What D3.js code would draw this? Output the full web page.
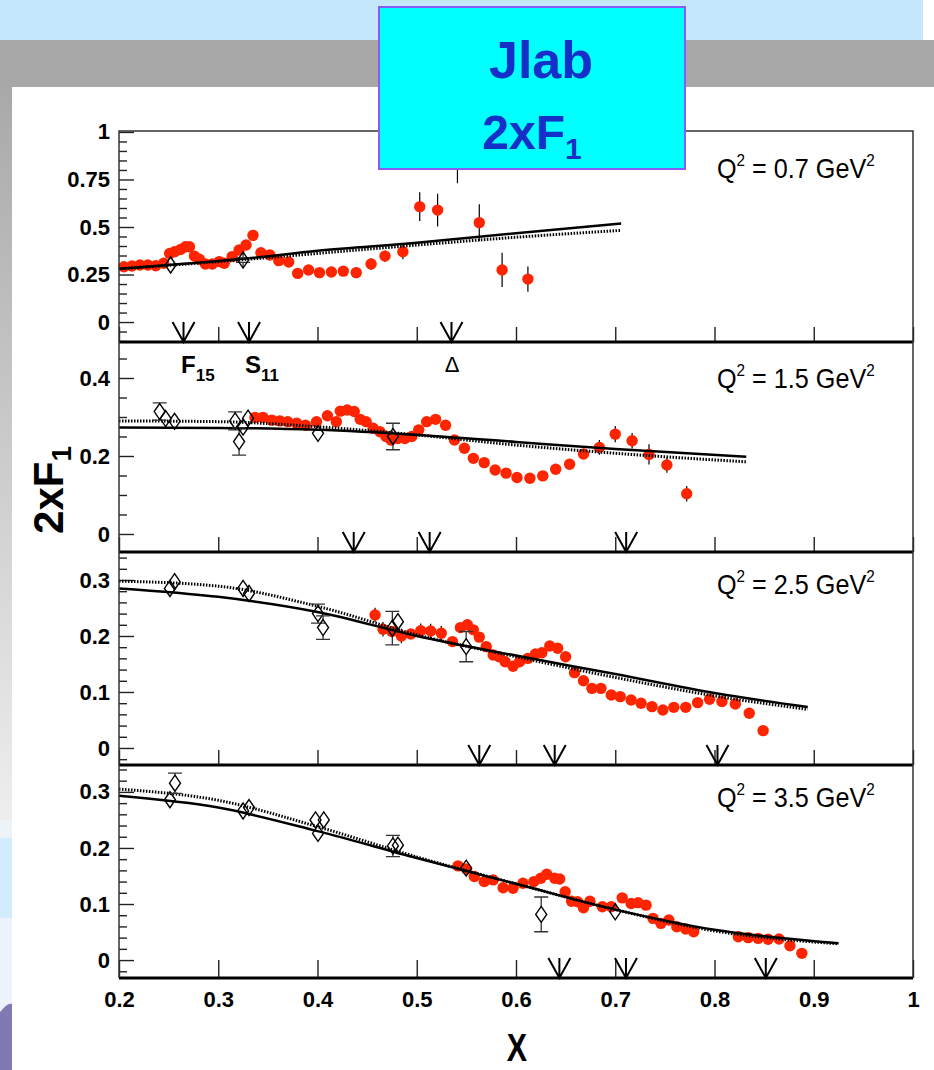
<!DOCTYPE html>
<html>
<head>
<meta charset="utf-8">
<script src="https://cdn.jsdelivr.net/npm/d3@7"></script>
<style>
body { margin: 0; background: #fff; }
svg { display: block; }
text { font-family: "Liberation Sans", Arial, sans-serif; }
</style>
</head>
<body>
<div id="chart"></div>
<script>
// ---- data: [x, 2xF1, error] ----
var q2Labels = ["0.7", "1.5", "2.5", "3.5"];

var red07 = [[0.205,0.291,0],[0.213,0.295,0],[0.221,0.300,0],[0.229,0.300,0],[0.237,0.296,0],[0.245,0.309,0],
  [0.251,0.361,0],[0.256,0.370,0],[0.262,0.382,0],[0.267,0.396,0],[0.271,0.396,0],[0.276,0.347,0],[0.281,0.330,0],
  [0.287,0.305,0],[0.294,0.305,0],[0.301,0.318,0],[0.306,0.309,0],[0.314,0.344,0],[0.321,0.379,0],[0.328,0.405,0],
  [0.335,0.456,0],[0.343,0.365,0],[0.352,0.353,0],[0.361,0.323,0],[0.371,0.316,0],[0.380,0.256,0],[0.391,0.274,0],
  [0.402,0.260,0],[0.414,0.263,0],[0.426,0.268,0],[0.439,0.260,0.03],[0.454,0.305,0.03],[0.468,0.347,0.03],
  [0.486,0.370,0.04],[0.503,0.607,0.076],[0.521,0.589,0.086],[0.541,0.95,0.22],[0.563,0.523,0.097],
  [0.586,0.274,0.09],[0.612,0.226,0.066]];
var dia07 = [[0.252,0.300,0],[0.325,0.326,0.012]];
var solid07 = [[0.2,0.28],[0.33,0.335],[0.4,0.375],[0.5,0.417],[0.6,0.467],[0.706,0.519]];
var dot07 = [[0.2,0.28],[0.33,0.33],[0.4,0.361],[0.5,0.405],[0.6,0.446],[0.705,0.482]];
var arrows07 = [0.265, 0.331, 0.535];

var red15 = [[0.337,0.299,0],[0.345,0.299,0],[0.354,0.292,0],[0.362,0.290,0],[0.370,0.288,0],[0.379,0.284,0],
  [0.388,0.279,0],[0.399,0.288,0],[0.410,0.303,0],[0.419,0.288,0],[0.423,0.315,0],[0.430,0.318,0],[0.437,0.314,0],
  [0.443,0.294,0],[0.449,0.288,0],[0.456,0.271,0],[0.463,0.262,0],[0.469,0.250,0],[0.474,0.241,0],[0.481,0.245,0],
  [0.488,0.245,0],[0.495,0.250,0],[0.502,0.267,0],[0.510,0.288,0],[0.519,0.294,0],[0.529,0.279,0],[0.538,0.241,0],
  [0.548,0.220,0],[0.557,0.194,0],[0.568,0.183,0],[0.579,0.164,0],[0.590,0.156,0],[0.601,0.145,0],[0.614,0.143,0],
  [0.627,0.149,0],[0.640,0.166,0],[0.654,0.179,0],[0.668,0.205,0],[0.684,0.222,0.019],[0.700,0.256,0.021],
  [0.717,0.239,0.02],[0.734,0.204,0.026],[0.752,0.177,0.02],[0.772,0.103,0.02]];
var dia15 = [[0.241,0.314,0.022],[0.247,0.296,0],[0.256,0.289,0],[0.317,0.290,0.023],[0.321,0.237,0.035],
  [0.325,0.274,0],[0.330,0.297,0],[0.4005,0.258,0],[0.476,0.250,0.034]];
var solid15 = [[0.2,0.273],[0.3,0.272],[0.4,0.267],[0.5,0.254],[0.6,0.236],[0.7,0.218],[0.832,0.198]];
var dot15 = [[0.2,0.290],[0.3,0.288],[0.4,0.275],[0.5,0.254],[0.6,0.228],[0.7,0.207],[0.832,0.185]];
var arrows15 = [0.4365, 0.513, 0.711];

var red25 = [[0.458,0.2375,0.013],[0.466,0.212,0.013],[0.475,0.208,0],[0.4845,0.200,0.013],[0.494,0.2036,0],
  [0.504,0.2095,0.013],[0.514,0.209,0.013],[0.5247,0.205,0.013],[0.536,0.190,0],[0.544,0.215,0],[0.551,0.220,0],
  [0.557,0.211,0],[0.563,0.198,0],[0.570,0.181,0],[0.577,0.166,0],[0.583,0.163,0],[0.589,0.154,0],[0.597,0.146,0],
  [0.6036,0.154,0],[0.612,0.160,0],[0.6196,0.168,0],[0.626,0.170,0],[0.634,0.182,0],[0.642,0.178,0],[0.650,0.163,0],
  [0.659,0.1345,0],[0.668,0.120,0],[0.6765,0.1065,0],[0.6856,0.1065,0],[0.696,0.0946,0],[0.705,0.0917,0],
  [0.716,0.0857,0],[0.726,0.0798,0],[0.737,0.0738,0],[0.748,0.0679,0],[0.759,0.0726,0],[0.771,0.0726,0],
  [0.783,0.081,0],[0.795,0.087,0],[0.8075,0.083,0],[0.821,0.0786,0],[0.835,0.062,0],[0.849,0.031,0]];
var dia25 = [[0.2513,0.285,0],[0.256,0.297,0],[0.325,0.285,0],[0.331,0.276,0],[0.4005,0.240,0.017],
  [0.4056,0.215,0.021],[0.4754,0.214,0.03],[0.481,0.2256,0],[0.5498,0.181,0.027]];
var solid25 = [[0.2,0.285],[0.3,0.270],[0.4,0.243],[0.5,0.200],[0.6,0.165],[0.7,0.132],[0.8,0.098],[0.894,0.073]];
var dot25 = [[0.2,0.298],[0.3,0.289],[0.4,0.253],[0.5,0.202],[0.6,0.163],[0.7,0.126],[0.8,0.093],[0.894,0.069]];
var arrows25 = [0.563, 0.639, 0.803];

var red35 = [[0.5416,0.168,0.008],[0.550,0.1625,0.008],[0.558,0.149,0.008],[0.568,0.140,0.008],[0.577,0.143,0],
  [0.587,0.129,0],[0.597,0.128,0],[0.607,0.137,0],[0.618,0.140,0],[0.625,0.146,0],[0.631,0.153,0],[0.639,0.146,0],
  [0.644,0.1446,0],[0.6495,0.122,0],[0.656,0.105,0],[0.662,0.104,0],[0.668,0.0934,0],[0.6745,0.105,0],
  [0.687,0.095,0],[0.696,0.095,0],[0.707,0.111,0],[0.716,0.101,0],[0.723,0.1024,0],[0.731,0.098,0],
  [0.738,0.0744,0],[0.746,0.0655,0],[0.754,0.0714,0],[0.762,0.0595,0],[0.771,0.0554,0],[0.779,0.0506,0],
  [0.824,0.0417,0],[0.834,0.040,0],[0.844,0.0387,0],[0.854,0.037,0],[0.865,0.0375,0],[0.876,0.0256,0],[0.888,0.012,0]];
var dia35 = [[0.2513,0.286,0],[0.2564,0.3155,0.018],[0.325,0.266,0],[0.331,0.272,0],[0.398,0.250,0],
  [0.4063,0.250,0],[0.4005,0.226,0],[0.476,0.2036,0.019],[0.481,0.205,0],[0.5498,0.164,0],
  [0.6254,0.0815,0.031],[0.700,0.086,0]];
var solid35 = [[0.2,0.293],[0.3,0.272],[0.4,0.230],[0.5,0.182],[0.6,0.136],[0.7,0.090],[0.8,0.054],[0.925,0.030]];
var dot35 = [[0.2,0.305],[0.3,0.285],[0.4,0.238],[0.5,0.184],[0.6,0.136],[0.7,0.090],[0.8,0.052],[0.925,0.029]];
var arrows35 = [0.6437, 0.7108, 0.8517];

var xTicks = [0.2, 0.3, 0.4, 0.5, 0.6, 0.7, 0.8, 0.9, 1];
var yMajor07 = [0, 0.25, 0.5, 0.75, 1];
var yMajor15 = [0, 0.2, 0.4];
var yMajor25 = [0, 0.1, 0.2, 0.3];

// ---- layout ----
var svgWidth = 934, svgHeight = 1070;
var left = 119, right = 913;

var panels = [
  {q: q2Labels[0], red: red07, dia: dia07, solid: solid07, dotted: dot07, arrows: arrows07,
   top: 131, bottom: 342, dom: [-0.105, 1.005], major: yMajor07, minor: d3.range(-2, 21).map(i => i * 0.05), labelY: 178},
  {q: q2Labels[1], red: red15, dia: dia15, solid: solid15, dotted: dot15, arrows: arrows15,
   top: 342, bottom: 552, dom: [-0.0462, 0.4923], major: yMajor15, minor: d3.range(-1, 10).map(i => i * 0.05), labelY: 388},
  {q: q2Labels[2], red: red25, dia: dia25, solid: solid25, dotted: dot25, arrows: arrows25,
   top: 552, bottom: 765, dom: [-0.0304, 0.35], major: yMajor25, minor: d3.range(-1, 18).map(i => i * 0.02), labelY: 594},
  {q: q2Labels[3], red: red35, dia: dia35, solid: solid35, dotted: dot35, arrows: arrows35,
   top: 765, bottom: 978, dom: [-0.032, 0.348], major: yMajor25, minor: d3.range(-1, 18).map(i => i * 0.02), labelY: 807}
];

var svg = d3.select("#chart")
  .append("svg")
  .attr("width", svgWidth)
  .attr("height", svgHeight);

// slide background pieces
var defs = svg.append("defs");
var grad = defs.append("linearGradient").attr("id", "leftGrad")
  .attr("x1", 0).attr("y1", 0).attr("x2", 0).attr("y2", 1);
grad.append("stop").attr("offset", "0%").attr("stop-color", "#a9a9a9");
grad.append("stop").attr("offset", "100%").attr("stop-color", "#eeeeee");

svg.append("rect").attr("width", svgWidth).attr("height", svgHeight).attr("fill", "#fff");
svg.append("rect").attr("x", 0).attr("y", 0).attr("width", 923).attr("height", 40).attr("fill", "#c5e7fc");
svg.append("rect").attr("x", 0).attr("y", 40).attr("width", svgWidth).attr("height", 47).attr("fill", "#a8a8a8");
svg.append("rect").attr("x", 0).attr("y", 87).attr("width", 12).attr("height", 733).attr("fill", "url(#leftGrad)");
svg.append("rect").attr("x", 0).attr("y", 820).attr("width", 12).attr("height", 18).attr("fill", "#eef3f8");
svg.append("rect").attr("x", 0).attr("y", 838).attr("width", 12).attr("height", 80).attr("fill", "#d3ecfb");
svg.append("rect").attr("x", 0).attr("y", 918).attr("width", 12).attr("height", 152).attr("fill", "#eef2fa");
svg.append("path").attr("d", "M0,1012 Q8,1002 12,1004 L12,1070 L0,1070 Z").attr("fill", "#8079b4");

var x = d3.scaleLinear().domain([0.2, 1]).range([left, right]);

var line = d3.line()
  .x(d => x(d[0]))
  .curve(d3.curveMonotoneX);

function fmtY(d) {
  return d === 0 ? "0" : String(+d.toFixed(2));
}

panels.forEach(function(p, i) {
  var y = d3.scaleLinear().domain(p.dom).range([p.bottom, p.top]);
  var g = svg.append("g");

  // y axis: minor then major ticks
  var minorVals = p.minor.filter(v => !p.major.some(m => Math.abs(m - v) < 1e-6) && v >= p.dom[0] && v <= p.dom[1]);
  g.append("g")
    .attr("transform", `translate(${left},0)`)
    .call(d3.axisLeft(y).tickValues(minorVals).tickSize(-8).tickFormat(""))
    .call(a => a.select(".domain").remove());
  g.append("g")
    .attr("class", "yaxis")
    .attr("transform", `translate(${left},0)`)
    .call(d3.axisLeft(y).tickValues(p.major).tickSize(-15).tickPadding(9).tickFormat(fmtY))
    .call(a => a.select(".domain").remove());

  // x ticks along the bottom of each panel
  var xa = d3.axisBottom(x).tickValues(xTicks).tickSize(i === 3 ? -18 : -15).tickPadding(13)
    .tickFormat(i === 3 ? (d => d === 1 ? "1" : d.toFixed(1)) : "");
  g.append("g")
    .attr("class", "xaxis")
    .attr("transform", `translate(0,${p.bottom})`)
    .call(xa)
    .call(a => a.select(".domain").remove());

  g.selectAll(".tick line").attr("stroke", "#222").attr("stroke-width", 1.4);
  g.selectAll(".tick text")
    .attr("font-size", 22)
    .attr("font-weight", "bold")
    .attr("fill", "#000")
    .attr("font-family", "'Liberation Sans', Arial, sans-serif");

  // red points with error bars
  g.selectAll(".rerr")
    .data(p.red.filter(d => d[2] > 0))
    .enter()
    .append("line")
    .attr("x1", d => x(d[0])).attr("x2", d => x(d[0]))
    .attr("y1", d => y(d[1] - d[2])).attr("y2", d => y(d[1] + d[2]))
    .attr("stroke", "#000").attr("stroke-width", 1.2);
  g.selectAll(".rpt")
    .data(p.red)
    .enter()
    .append("circle")
    .attr("cx", d => x(d[0]))
    .attr("cy", d => y(d[1]))
    .attr("r", 5.7)
    .attr("fill", "#ff2400");

  // model curves
  g.append("path")
    .attr("d", line.y(d => y(d[1]))(p.dotted))
    .attr("fill", "none").attr("stroke", "#000").attr("stroke-width", 3)
    .attr("stroke-dasharray", "1.5,1.5");
  g.append("path")
    .attr("d", line.y(d => y(d[1]))(p.solid))
    .attr("fill", "none").attr("stroke", "#000").attr("stroke-width", 2.5);

  // open diamonds with capped error bars
  p.dia.forEach(function(d) {
    var cx = x(d[0]), cy = y(d[1]);
    if (d[2] > 0) {
      var up = y(d[1] + d[2]), dn = y(d[1] - d[2]);
      g.append("path")
        .attr("d", `M${cx},${cy - 8}L${cx},${up}M${cx - 7},${up}L${cx + 7},${up}` +
                   `M${cx},${cy + 8}L${cx},${dn}M${cx - 7},${dn}L${cx + 7},${dn}`)
        .attr("fill", "none").attr("stroke", "#333").attr("stroke-width", 1.3);
    }
    g.append("path")
      .attr("d", `M${cx},${cy - 8}L${cx + 5.5},${cy}L${cx},${cy + 8}L${cx - 5.5},${cy}Z`)
      .attr("fill", "none").attr("stroke", "#000").attr("stroke-width", 1.4);
  });

  // resonance arrows
  g.selectAll(".arrow")
    .data(p.arrows)
    .enter()
    .append("path")
    .attr("d", d => {
      var ax = x(d), b = p.bottom;
      return `M${ax - 11},${b - 20}L${ax},${b}L${ax + 11},${b - 20}M${ax},${b - 20}L${ax},${b}`;
    })
    .attr("fill", "none").attr("stroke", "#000").attr("stroke-width", 2);

  // Q^2 label
  var t = g.append("text")
    .attr("transform", `translate(717,${p.labelY}) scale(0.9,1)`)
    .attr("font-size", 28).attr("fill", "#000");
  t.append("tspan").text("Q");
  t.append("tspan").attr("font-size", 17).attr("dy", -12).text("2");
  t.append("tspan").attr("dy", 12).text(" = " + p.q + " GeV");
  t.append("tspan").attr("font-size", 17).attr("dy", -12).text("2");

  // panel bottom line
  g.append("line")
    .attr("x1", left).attr("x2", right)
    .attr("y1", p.bottom).attr("y2", p.bottom)
    .attr("stroke", "#000").attr("stroke-width", 3);
});

// frame
svg.append("path")
  .attr("d", `M${left},978L${left},131L${right},131L${right},978`)
  .attr("fill", "none").attr("stroke", "#333").attr("stroke-width", 1.5);

// resonance names under first panel
var f15 = svg.append("text").attr("x", 181).attr("y", 373).attr("font-size", 24).attr("font-weight", "bold").text("F");
f15.append("tspan").attr("font-size", 17).attr("dy", 8).text("15");
var s11 = svg.append("text").attr("x", 245).attr("y", 373).attr("font-size", 24).attr("font-weight", "bold").text("S");
s11.append("tspan").attr("font-size", 17).attr("dy", 8).text("11");
svg.append("text").attr("x", 452).attr("y", 372).attr("font-size", 22).attr("text-anchor", "middle").text("\u0394");

// axis titles
var yt = svg.append("text")
  .attr("transform", "translate(63,490) rotate(-90)")
  .attr("text-anchor", "middle")
  .attr("font-size", 42)
  .attr("font-weight", "bold")
  .text("2xF");
yt.append("tspan").attr("font-size", 28).attr("dy", 8).text("1");

svg.append("text")
  .attr("transform", "translate(517,1061) scale(0.8,1)")
  .attr("text-anchor", "middle")
  .attr("font-size", 38)
  .attr("font-weight", "bold")
  .text("X");

// title box
svg.append("rect")
  .attr("x", 379).attr("y", 7).attr("width", 306).attr("height", 162)
  .attr("fill", "#00ffff").attr("stroke", "#8a5cf6").attr("stroke-width", 2);
svg.append("text")
  .attr("x", 541).attr("y", 78)
  .attr("text-anchor", "middle")
  .attr("font-size", 52).attr("font-weight", "bold").attr("fill", "#1530c8")
  .text("Jlab");
var bt = svg.append("text")
  .attr("x", 532).attr("y", 149)
  .attr("text-anchor", "middle")
  .attr("font-size", 48).attr("font-weight", "bold").attr("fill", "#1530c8")
  .text("2xF");
bt.append("tspan").attr("font-size", 30).attr("dy", 10).text("1");
</script>
</body>
</html>
